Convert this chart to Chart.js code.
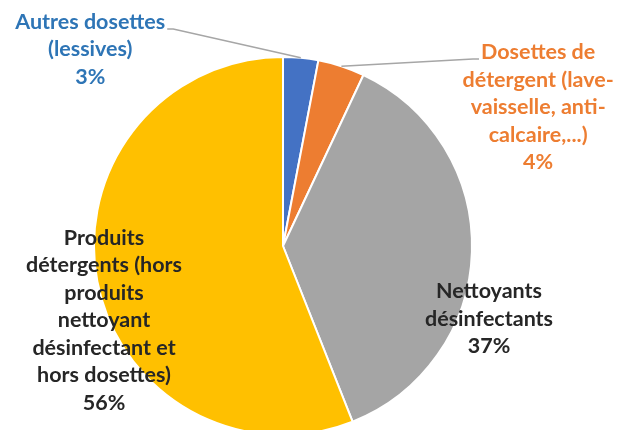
<!DOCTYPE html>
<html lang="fr">
<head>
<meta charset="utf-8">
<title>Répartition des produits</title>
<script src="https://cdn.jsdelivr.net/npm/chart.js@4.4.1/dist/chart.umd.min.js"></script>
<style>
  html, body { margin: 0; padding: 0; background: #fff; overflow: hidden; }
  #wrap { width: 619px; height: 430px; position: relative; }
</style>
</head>
<body>
<div id="wrap"><canvas id="pie"></canvas></div>
<script>
/* ── Data ───────────────────────────────────────────── */
const categories = [
    "Autres dosettes (lessives)",
    "Dosettes de détergent (lave-vaisselle, anti-calcaire,...)",
    "Nettoyants désinfectants",
    "Produits détergents (hors produits nettoyant désinfectant et hors dosettes)",
];
const shares = [3, 4, 37, 56];

// label text as it wraps in the picture
const labelLines = [
    ["Autres dosettes", "(lessives)"],
    ["Dosettes de", "détergent (lave-", "vaisselle, anti-", "calcaire,...)"],
    ["Nettoyants", "désinfectants"],
    ["Produits", "détergents (hors", "produits", "nettoyant", "désinfectant et", "hors dosettes)"],
];

/* ── Styles ─────────────────────────────────────────── */
const sliceColors = ["#4472C4", "#ED7D31", "#A5A5A5", "#FFC000"];
const labelColors = ["#2E75B6", "#ED7D31", "#262626", "#262626"];
// label block centre, relative to pie centre, in radius units
const labelPlace = [
    { dx: -1.02, dy: -1.04, leader: true },
    { dx: 1.35, dy: -0.735, leader: true },
    { dx: 1.09, dy: 0.386, leader: false },
    { dx: -0.947, dy: 0.392, leader: false },
];
const FONT = "bold 21.5px Lato, 'Open Sans', sans-serif";
const LINE_H = 27.5;

/* ── Label plugin ───────────────────────────────────── */
const sliceLabels = {
    id: "sliceLabels",
    afterDatasetsDraw(chart) {
        const { ctx } = chart;
        const arcs = chart.getDatasetMeta(0).data;
        ctx.save();
        ctx.font = FONT;
        ctx.textAlign = "center";
        ctx.textBaseline = "middle";

        arcs.forEach((arc, i) => {
            const { x, y, outerRadius, startAngle, endAngle } = arc.getProps(
                ["x", "y", "outerRadius", "startAngle", "endAngle"], true);
            const lines = [...labelLines[i], shares[i] + "%"];
            const cx = x + labelPlace[i].dx * outerRadius;
            const cy = y + labelPlace[i].dy * outerRadius;
            const top = cy - (lines.length - 1) * LINE_H / 2;

            if (labelPlace[i].leader) {
                const mid = (startAngle + endAngle) / 2;
                const ex = x + Math.cos(mid) * outerRadius;
                const ey = y + Math.sin(mid) * outerRadius;
                const w = ctx.measureText(lines[0]).width;
                const onLeft = cx < x;
                const sx = onLeft ? cx + w / 2 + 2 : cx - w / 2 - 2;
                const sy = top + 7;
                ctx.strokeStyle = "#A6A6A6";
                ctx.lineWidth = 1.5;
                ctx.beginPath();
                ctx.moveTo(sx, sy);
                ctx.lineTo(sx + (onLeft ? 6 : -6), sy);
                ctx.lineTo(ex, ey);
                ctx.stroke();
            }

            ctx.fillStyle = labelColors[i];
            lines.forEach((t, k) => ctx.fillText(t, cx, top + k * LINE_H));
        });
        ctx.restore();
    },
};

/* ── Chart ──────────────────────────────────────────── */
new Chart(document.getElementById("pie"), {
    type: "pie",
    data: {
        labels: categories,
        datasets: [{
            data: shares,
            backgroundColor: sliceColors,
            borderColor: "#ffffff",
            borderWidth: 2,
            radius: 189,
        }],
    },
    options: {
        responsive: true,
        maintainAspectRatio: false,
        animation: false,
        layout: { padding: { top: 62, right: 53, bottom: 0, left: 0 } },
        plugins: {
            legend: { display: false },
            tooltip: { enabled: false },
        },
    },
    plugins: [sliceLabels],
});
</script>
</body>
</html>
